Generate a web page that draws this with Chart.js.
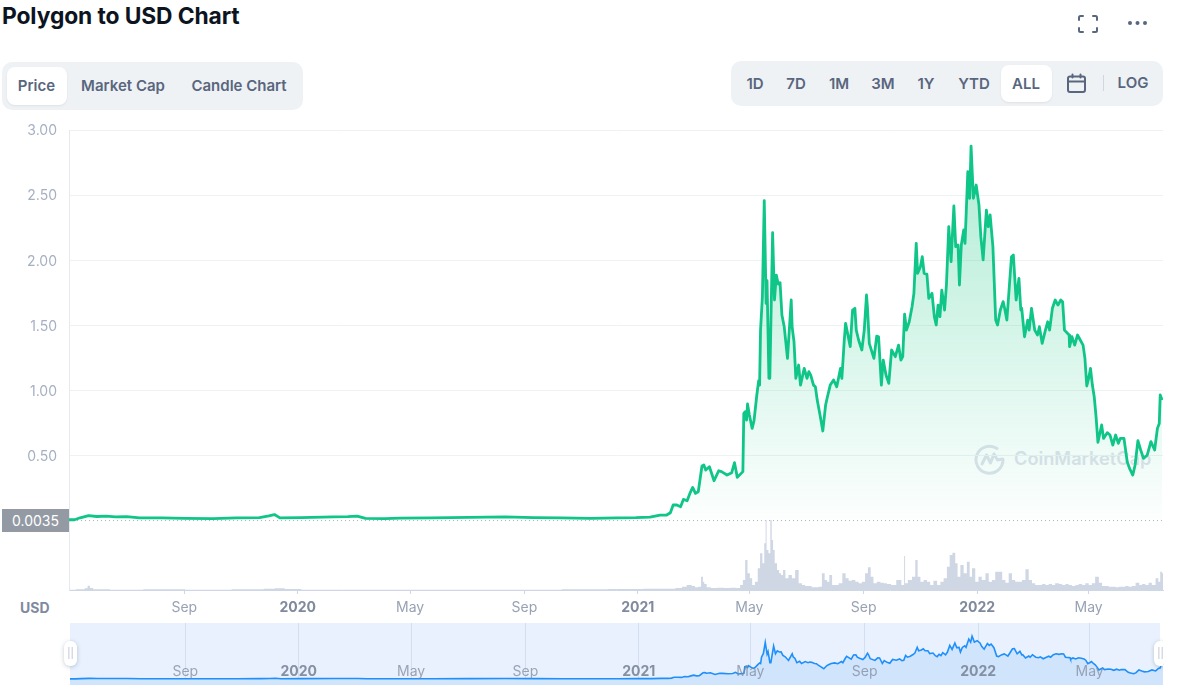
<!DOCTYPE html>
<html><head><meta charset="utf-8">
<script src="https://cdn.jsdelivr.net/npm/chart.js@4/dist/chart.umd.min.js"></script>
<style>
html,body{margin:0;padding:0;background:#fff;width:1180px;height:692px;overflow:hidden;font-family:Inter,"Noto Sans",sans-serif}
.a{position:absolute}
#title{left:2px;top:1px;font-size:22.8px;line-height:30px;font-weight:700;color:#0d1421;white-space:nowrap;letter-spacing:-.1px}
.grp{background:#eff2f5;border-radius:10px}
.pill{background:#fff;border-radius:8px;box-shadow:0 1px 2px rgba(88,102,126,.12)}
.b{font-size:15px;line-height:18px;font-weight:600;color:#58667e;white-space:nowrap;transform:translateX(-50%)}
#last{left:2px;top:509px;width:67px;height:23px;background:#939aa3;color:#fff;font-size:14px;line-height:23px;text-align:center;z-index:5}
#usd{left:20px;top:599px;font-size:14px;line-height:18px;font-weight:700;color:#808a9d}
#wm{left:1014px;top:445px;font-size:18.2px;line-height:26px;font-weight:600;color:#dfe3ec;white-space:nowrap;z-index:1}
#c1{left:0;top:0;z-index:2}
#navbg{left:70px;top:623px;width:1090px;height:62px;background:#e8f1fd}
#c2{left:0;top:623px;z-index:2}
.h{width:13px;height:25px;top:641px;background:#fff;border-radius:6px;box-shadow:0 1px 4px rgba(88,102,126,.35);z-index:4;color:#b6bfce;font-size:10px;line-height:24px;text-align:center}
</style></head><body>
<div class="a" id="title">Polygon to USD Chart</div>
<svg class="a" style="left:1077px;top:14px" width="22" height="20" viewBox="0 0 22 20" fill="none" stroke="#58667e" stroke-width="2" stroke-linecap="round"><path d="M2 6V3.500A1.500 1.500 0 0 1 3.500 2H6M16 2h2.500A1.500 1.500 0 0 1 20 3.500V6M20 14v2.500a1.500 1.500 0 0 1-1.500 1.500H16M6 18H3.500A1.500 1.500 0 0 1 2 16.500V14"/></svg>
<svg class="a" style="left:1127px;top:19px" width="22" height="8" viewBox="0 0 22 8" fill="#58667e"><circle cx="3" cy="4" r="2"/><circle cx="10.500" cy="4" r="2"/><circle cx="18" cy="4" r="2"/></svg>

<div class="a grp" style="left:2px;top:62px;width:301px;height:48px"></div>
<div class="a pill" style="left:7px;top:67px;width:60px;height:38px"></div>
<div class="a b" style="left:36.500px;top:77px">Price</div>
<div class="a b" style="left:123px;top:77px">Market Cap</div>
<div class="a b" style="left:239px;top:77px">Candle Chart</div>

<div class="a grp" style="left:731px;top:61px;width:432px;height:45px"></div>
<div class="a pill" style="left:1001px;top:65px;width:51px;height:37px"></div>
<div class="a b" style="left:755px;top:75px">1D</div>
<div class="a b" style="left:796px;top:75px">7D</div>
<div class="a b" style="left:839px;top:75px">1M</div>
<div class="a b" style="left:883px;top:75px">3M</div>
<div class="a b" style="left:926px;top:75px">1Y</div>
<div class="a b" style="left:974px;top:75px">YTD</div>
<div class="a b" style="left:1026px;top:75px">ALL</div>
<svg class="a" style="left:1066px;top:73px" width="21" height="21" viewBox="0 0 21 21" fill="none" stroke="#58667e" stroke-width="2" stroke-linecap="round"><rect x="2" y="3.500" width="17" height="15.500" rx="2"/><path d="M2 8.500h17M6.500 1.500v3M14.500 1.500v3"/></svg>
<div class="a" style="left:1103px;top:75px;width:1px;height:16px;background:#cfd6e4"></div>
<div class="a b" style="left:1133px;top:74px">LOG</div>

<div class="a" id="last">0.0035</div>
<div class="a" id="usd">USD</div>
<svg class="a" style="left:974px;top:443px;z-index:1" width="32" height="32" viewBox="0 0 32 32" fill="none" stroke="#dfe3ec" stroke-width="3" stroke-linecap="round" stroke-linejoin="round"><path d="M29 16.500A13.500 13.500 0 1 1 23 5.500"/><path d="M8 21l4.500-9 4 8 3.500-9 3.500 6 5-1"/></svg>
<div class="a" id="wm">CoinMarketCap</div>
<canvas class="a" id="c1" width="1180" height="620"></canvas>
<div class="a" id="navbg"></div>
<canvas class="a" id="c2" width="1180" height="69"></canvas>
<div class="a h" style="left:64px">||</div>
<div class="a" style="left:1150px;top:636px;width:13px;height:36px;overflow:hidden;z-index:4"><div class="a h" style="left:4px;top:5px">||</div></div>

<script>
const days=[0,6,12,21,30,40,50,62,76,100,125,155,180,205,215,221,227,250,284,300,310,319,340,356,390,430,469,500,530,561,590,610,625,636,643,647,650,654,658,661,665,668,671,674,677,681,683,685,689,694,699,702,708,713,716,719,725,726,727.5,729,730,732,735,737,740,742,743,744,746,748,750,751,753,754,757,759,761,763,765,767,769.5,773,777,778,780,782,785,787,791,794,796,798,801,803,805,808,811,814,816,819,822.6,826,830,831.5,834,835.5,840.5,843,845.5,847,849.5,853,855.6,858,859,861,866,869,871,874,876,879,882,885,889,892.5,895,897,899,901,904,907,909,911.5,913,916,918,920,923,925,928.5,931,933,935,937,939,942,944,946.5,949,952,954,956.5,958,960,962.6,964,967,969,970.5,973,976,979,981,983.5,987,989,991,994,997,999,1002,1005,1007,1009,1011,1014,1016,1019,1022,1024,1025,1028,1031.5,1033,1035.5,1039,1042,1044,1047,1050.5,1053,1055,1058,1061,1064,1067,1069,1071,1076,1076.5,1079,1082,1085,1088,1091,1093,1095,1097,1099,1101,1103,1105,1107,1111,1113,1117,1120,1123,1126,1129,1131,1135,1138.5,1141,1144.5,1147,1150,1153,1156,1160,1164,1168,1171,1173,1174,1176];
const prices=[.01,.01,.025,.042,.035,.038,.032,.034,.024,.024,.02,.019,.024,.027,.04,.05,.024,.026,.032,.034,.038,.02,.018,.022,.024,.028,.032,.026,.024,.021,.024,.026,.03,.046,.046,.064,.123,.123,.11,.166,.156,.212,.258,.212,.225,.422,.43,.391,.417,.309,.386,.379,.353,.371,.448,.335,.379,.826,.839,.775,.898,.813,.711,.77,.967,1.077,1.043,1.465,1.72,2.458,1.67,1.844,1.095,1.095,2.212,1.696,1.887,1.818,1.829,1.581,1.49,1.248,1.696,1.49,1.376,1.095,1.197,1.043,1.171,1.095,1.146,1.12,1.043,1.03,.928,.813,.691,.89,.954,1.043,1.082,1.03,1.171,1.095,1.376,1.517,1.338,1.619,1.632,1.465,1.389,1.312,1.465,1.734,1.644,1.363,1.248,1.419,1.414,1.043,1.235,1.12,1.056,1.312,1.261,1.35,1.235,1.261,1.588,1.465,1.529,1.644,1.747,2.13,1.9,1.951,2.028,1.9,1.895,1.708,1.747,1.568,1.504,1.657,1.568,1.772,1.619,1.811,2.258,1.99,2.417,2.105,2.118,1.811,2.118,2.233,2.13,2.68,2.476,2.877,2.476,2.578,2.425,2.182,2.003,2.386,2.258,2.348,2.105,1.542,1.504,1.619,1.683,1.619,1.542,1.734,2.028,2.041,1.696,1.862,1.619,1.632,1.414,1.542,1.465,1.632,1.465,1.427,1.491,1.363,1.465,1.529,1.465,1.632,1.696,1.657,1.696,1.683,1.465,1.427,1.338,1.414,1.35,1.427,1.389,1.35,1.248,1.036,1.095,1.171,1.043,.954,.8,.604,.737,.634,.678,.66,.583,.66,.596,.634,.634,.455,.404,.353,.43,.616,.545,.481,.506,.609,.545,.711,.749,.967,.928];
const volumeDays=[0,15,19,21,24,28,60,100,150,200,219,224,240,260,400,500,560,600,636,647,658,661,668,672,675,679,681,683,684,688,693,701,708,715,720,724,726,729,731,734,736,740,742,745,747,749,750,751,754,755,757,758,760.5,763,765,767,769.5,772,776,779.5,783,787,790,794,797,801,805,808,812,814,817,819,823,826,830,834,837,840.5,844,848,851,855,858,861,864,867,871,875,878,882,887,893,898,899,900,905,909,912,914,918,921,925,928,932,936,939,943,946,949,952,955,957,961,964,968,970,973,977,980,984,988,991,995,998,1002,1006,1009,1013,1016,1020,1023.5,1027,1031,1034,1038,1041,1045,1049,1052,1056,1059,1063,1067,1070,1074,1077,1081,1084.5,1088,1092,1095,1099,1102,1106,1110,1113,1117,1120,1124,1128,1131,1135,1138,1142,1145,1150,1153,1156,1160,1163,1167,1171,1173,1175,1177];
const volumes=[1,2,5,13,6,2,1,2,1,2,4,5,3,1,1,1,2,3,4,4,6,10,15,12,8,10,40,25,18,8,6,7,6,7,6,15,30,90,50,35,15,25,65,110,80,140,210,120,110,210,150,120,80,60,50,45,60,35,45,35,60,20,15,12,12,8,8,10,50,30,25,45,15,15,20,50,35,28,30,25,20,25,50,68,40,20,25,22,20,18,15,30,15,102,20,30,40,90,40,25,30,25,15,28,15,25,35,70,105,112,80,40,75,50,85,40,65,25,40,30,50,25,30,55,55,30,22,50,30,25,25,30,62,30,20,15,15,18,15,18,15,20,18,15,18,15,12,15,18,15,20,15,20,40,22,12,12,10,10,8,10,10,12,10,12,22,15,18,15,22,15,35,25,55,50];
const tickDays=[124,246,367,490,612,732,855,977,1097];
const tickLabels=['Sep','2020','May','Sep','2021','May','Sep','2022','May'];
const priceTicks=[.5,1,1.5,2,2.5,3];
const lastPrice=.0035;
const dayRange=[0,1177];

const FONT='Inter,"Noto Sans",sans-serif';
const pts=(xs,ys)=>xs.map((x,i)=>({x,y:ys[i]}));
const labelOf=v=>tickLabels[tickDays.indexOf(v)]||'';
const isYear=c=>/^\d{4}$/.test(labelOf(c.tick&&c.tick.value));
Chart.defaults.animation=false;

const ctx1=document.getElementById('c1').getContext('2d');
const grad=ctx1.createLinearGradient(0,145,0,520);
grad.addColorStop(0,'rgba(22,199,132,.34)');
grad.addColorStop(1,'rgba(22,199,132,.01)');

new Chart(ctx1,{
  type:'line',
  data:{datasets:[
    {data:pts(dayRange,[lastPrice,lastPrice]),yAxisID:'y',borderColor:'#a9b1bd',borderWidth:1,borderDash:[1,3],pointRadius:0,fill:false,order:3},
    {data:pts(volumeDays,volumes),yAxisID:'v',stepped:'middle',borderWidth:0,backgroundColor:'#cfd6e4',pointRadius:0,fill:'origin',order:2},
    {data:pts(days,prices),yAxisID:'y',borderColor:'#0fc587',borderWidth:2.8,pointRadius:0,tension:0,borderJoinStyle:'round',fill:{value:0},backgroundColor:grad,order:1}
  ]},
  options:{
    responsive:false,devicePixelRatio:1,
    layout:{padding:{left:0,right:17,top:130,bottom:0}},
    plugins:{legend:{display:false},tooltip:{enabled:false}},
    scales:{
      x:{type:'linear',min:dayRange[0],max:dayRange[1],
        afterBuildTicks:s=>{s.ticks=tickDays.map(value=>({value}))},
        afterFit:s=>{s.height=30},
        border:{color:'#cfd6e4',width:1},
        grid:{drawOnChartArea:false,tickLength:4,color:'#cfd6e4'},
        ticks:{autoSkip:false,maxRotation:0,padding:5,callback:labelOf,
          font:c=>({family:FONT,size:14,weight:isYear(c)?'700':'400'}),
          color:c=>isYear(c)?'#808a9d':'#98a2b3'}},
      y:{min:-.529,max:3,position:'left',
        afterBuildTicks:s=>{s.ticks=priceTicks.map(value=>({value}))},
        afterFit:s=>{s.width=69},
        border:{color:'#e6eaf0',width:1},
        grid:{color:'#eff2f5',drawTicks:false},
        ticks:{padding:12,labelOffset:1,autoSkip:false,callback:v=>v.toFixed(2),font:{family:FONT,size:14},color:'#a6b0c3'}},
      v:{display:false,min:0,max:1380}
    }
  }
});

new Chart(document.getElementById('c2').getContext('2d'),{
  type:'line',
  data:{datasets:[{data:pts(days,prices),borderColor:'#1f8ffb',borderWidth:1.6,pointRadius:0,tension:0,fill:'start',backgroundColor:'#d0e4fb'}]},
  options:{
    responsive:false,devicePixelRatio:1,
    layout:{padding:{left:70,right:16,top:0,bottom:0}},
    plugins:{legend:{display:false},tooltip:{enabled:false}},
    scales:{
      x:{type:'linear',min:dayRange[0],max:dayRange[1],
        afterBuildTicks:s=>{s.ticks=tickDays.map(value=>({value}))},
        afterFit:s=>{s.height=7},
        border:{display:false},
        grid:{color:'#d3dfee',drawTicks:false},
        ticks:{autoSkip:false,maxRotation:0,mirror:true,padding:5,callback:labelOf,z:1,
          font:c=>({family:FONT,size:14,weight:isYear(c)?'700':'400'}),
          color:c=>isYear(c)?'rgba(128,138,157,.95)':'rgba(128,138,157,.75)'}},
      y:{display:false,min:-.4,max:3.76}
    }
  }
});
</script>
</body></html>
